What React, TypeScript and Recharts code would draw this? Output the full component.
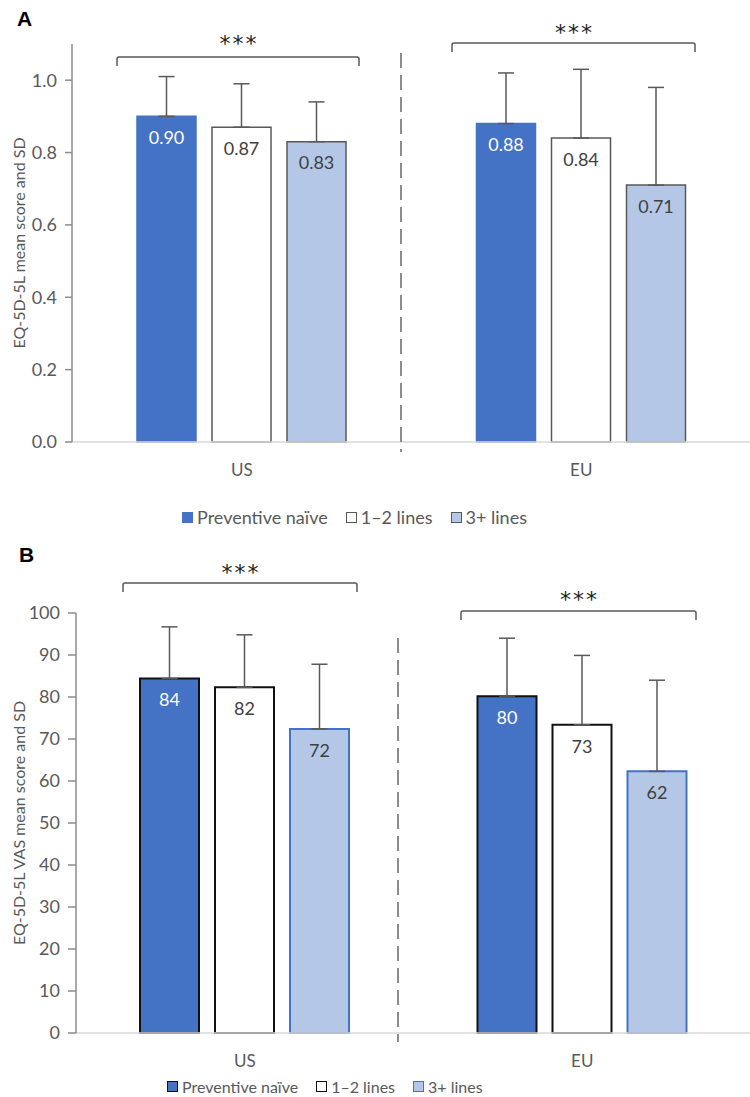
import { Bar, BarChart, ErrorBar, LabelList, XAxis, YAxis } from "recharts";

const categories = ["US", "EU"];
const seriesNames = ["Preventive naïve", "1–2 lines", "3+ lines"];

// panel A: EQ-5D-5L index
const eqNaive = [0.9, 0.88];
const eqOneTwo = [0.87, 0.84];
const eqThreePlus = [0.83, 0.71];
const eqNaiveSd = [0.11, 0.14];
const eqOneTwoSd = [0.12, 0.19];
const eqThreePlusSd = [0.11, 0.27];
const eqTicks = [0, 0.2, 0.4, 0.6, 0.8, 1.0];

// panel B: EQ-5D-5L VAS
const vasNaive = [84.4, 80.2];
const vasOneTwo = [82.3, 73.4];
const vasThreePlus = [72.4, 62.3];
const vasNaiveSd = [12.3, 13.8];
const vasOneTwoSd = [12.5, 16.5];
const vasThreePlusSd = [15.4, 21.7];
const vasTicks = [0, 10, 20, 30, 40, 50, 60, 70, 80, 90, 100];

const FONT = "Lato, 'Open Sans', sans-serif";
const GREY = "#595959";
const fills = ["#4472C4", "#FFFFFF", "#B4C7E7"];
const labelColors = ["#FFFFFF", "#404040", "#404040"];

function buildRows(values: number[][], sds: number[][]) {
  return categories.map((name, i) => ({
    name,
    s0: values[0][i],
    s1: values[1][i],
    s2: values[2][i],
    e0: [0, sds[0][i]],
    e1: [0, sds[1][i]],
    e2: [0, sds[2][i]],
  }));
}

const eqRows = buildRows([eqNaive, eqOneTwo, eqThreePlus], [eqNaiveSd, eqOneTwoSd, eqThreePlusSd]);
const vasRows = buildRows([vasNaive, vasOneTwo, vasThreePlus], [vasNaiveSd, vasOneTwoSd, vasThreePlusSd]);

interface PanelProps {
  rows: ReturnType<typeof buildRows>;
  domain: [number, number];
  ticks: number[];
  tickFmt: (v: number) => string;
  labelFmt: (v: number) => string;
  title: string;
  height: number;
  top: number;
  axisWidth: number;
  tickSize: number;
  strokes: string[];
  strokeWidth: number;
}

function Panel(p: PanelProps) {
  return (
    <BarChart
      width={751}
      height={p.height}
      data={p.rows}
      margin={{ top: p.top, right: 0, left: 0, bottom: 0 }}
      barSize={59}
      barGap={16}
      style={{ fontFamily: FONT }}
    >
      <XAxis
        dataKey="name"
        height={48}
        tickLine={false}
        tickSize={0}
        tickMargin={22}
        axisLine={{ stroke: "#D9D9D9", strokeWidth: 1.5 }}
        tick={{ fill: GREY, fontSize: 17, fontFamily: FONT }}
      />
      <YAxis
        width={p.axisWidth}
        domain={p.domain}
        ticks={p.ticks}
        interval={0}
        tickSize={p.tickSize}
        tickMargin={8}
        tickFormatter={p.tickFmt}
        axisLine={{ stroke: "#8C8C8C", strokeWidth: 1.5 }}
        tickLine={{ stroke: "#8C8C8C", strokeWidth: 1.5 }}
        tick={{ fill: GREY, fontSize: 18, fontFamily: FONT }}
        label={{
          content: ({ viewBox }: any) => {
            const cx = 18;
            const cy = viewBox.y + viewBox.height / 2;
            return (
              <text
                x={cx}
                y={cy}
                transform={`rotate(-90 ${cx} ${cy})`}
                textAnchor="middle"
                dominantBaseline="central"
                fill={GREY}
                fontSize={16}
                fontFamily={FONT}
              >
                {p.title}
              </text>
            );
          },
        }}
      />
      {[0, 1, 2].map((i) => (
        <Bar
          key={i}
          dataKey={`s${i}`}
          name={seriesNames[i]}
          fill={fills[i]}
          stroke={p.strokes[i]}
          strokeWidth={p.strokeWidth}
          isAnimationActive={false}
        >
          <ErrorBar dataKey={`e${i}`} direction="y" width={8} stroke="#595959" strokeWidth={1.5} />
          <LabelList
            dataKey={`s${i}`}
            position="insideTop"
            offset={15}
            fill={labelColors[i]}
            fontSize={18}
            fontFamily={FONT}
            formatter={(v: any) => p.labelFmt(Number(v))}
          />
        </Bar>
      ))}
    </BarChart>
  );
}

function LegendRow({ left, top, fontSize, swatch, borders }: { left: number; top: number; fontSize: number; swatch: number; borders: string[] }) {
  return (
    <div
      style={{
        position: "absolute",
        left,
        top,
        display: "flex",
        alignItems: "center",
        fontFamily: FONT,
        fontSize,
        color: GREY,
        whiteSpace: "nowrap",
      }}
    >
      {seriesNames.map((n, i) => (
        <span key={n} style={{ display: "flex", alignItems: "center", marginRight: i < 2 ? 18 : 0 }}>
          <span
            style={{
              display: "inline-block",
              width: swatch,
              height: swatch,
              background: fills[i],
              border: `1.5px solid ${borders[i]}`,
              boxSizing: "border-box",
              marginRight: 4,
            }}
          />
          {n}
        </span>
      ))}
    </div>
  );
}

function Bracket({ x1, x2, y, stars }: { x1: number; x2: number; y: number; stars: number }) {
  return (
    <g>
      <path d={`M${x1} ${y + 9} V${y + 2} Q${x1} ${y} ${x1 + 2} ${y} H${x2 - 2} Q${x2} ${y} ${x2} ${y + 2} V${y + 9}`} fill="none" stroke={GREY} strokeWidth={1.5} />
      <text x={(x1 + x2) / 2 + 1} y={stars} textAnchor="middle" fontSize={22} fontFamily="'DejaVu Sans', sans-serif" fill="#222" letterSpacing={2}>
        ***
      </text>
    </g>
  );
}

export default function App() {
  return (
    <div style={{ position: "absolute", left: 0, top: 0, width: 750, height: 1097, overflow: "hidden", background: "#fff" }}>
      <div style={{ position: "absolute", left: 0, top: 0 }}>
        <Panel
          rows={eqRows}
          domain={[0, 1.1]}
          ticks={eqTicks}
          tickFmt={(v) => v.toFixed(1)}
          labelFmt={(v) => v.toFixed(2)}
          title="EQ-5D-5L mean score and SD"
          height={490}
          top={44}
          axisWidth={72}
          tickSize={7}
          strokes={["#4472C4", GREY, GREY]}
          strokeWidth={1.5}
        />
      </div>
      <div style={{ position: "absolute", left: 0, top: 560 }}>
        <Panel
          rows={vasRows}
          domain={[0, 100]}
          ticks={vasTicks}
          tickFmt={(v) => String(v)}
          labelFmt={(v) => v.toFixed(0)}
          title="EQ-5D-5L VAS mean score and SD"
          height={521}
          top={53}
          axisWidth={76}
          tickSize={8}
          strokes={["#111111", "#111111", "#4472C4"]}
          strokeWidth={2}
        />
      </div>
      <LegendRow left={182} top={506} fontSize={18} swatch={11} borders={["#4472C4", GREY, GREY]} />
      <LegendRow left={167} top={1077} fontSize={16} swatch={11} borders={["#111111", "#111111", "#4472C4"]} />
      <svg width={750} height={1097} style={{ position: "absolute", left: 0, top: 0, pointerEvents: "none" }}>
        <text x={17} y={26} fontSize={21} fontWeight="bold" fontFamily="Arial, sans-serif" fill="#000">A</text>
        <text x={19} y={562} fontSize={21} fontWeight="bold" fontFamily="Arial, sans-serif" fill="#000">B</text>
        <Bracket x1={117} x2={359} y={57} stars={51} />
        <Bracket x1={452} x2={695} y={43} stars={40} />
        <Bracket x1={123} x2={357} y={583} stars={580} />
        <Bracket x1={461} x2={696} y={611} stars={607} />
        <line x1={401} x2={401} y1={53} y2={452} stroke="#8C8C8C" strokeWidth={2} strokeDasharray="15 7" />
        <line x1={398} x2={398} y1={638} y2={1042} stroke="#8C8C8C" strokeWidth={2} strokeDasharray="15 7" />
      </svg>
    </div>
  );
}
